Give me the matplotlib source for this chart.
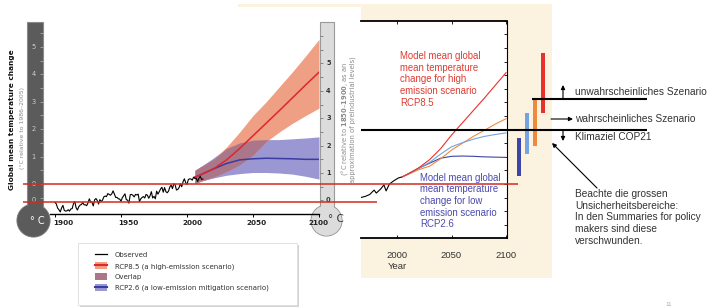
import matplotlib
matplotlib.use('Agg')
import matplotlib.pyplot as plt
import matplotlib.transforms as mtrans
from matplotlib.patches import Rectangle, Circle, Patch
from matplotlib.lines import Line2D
import numpy as np

# ---------------- data ----------------
obs_years = list(range(1900, 2013))
obs_values = [-0.67, -0.73, -0.88, -0.94, -1.02, -0.87, -0.78, -0.96, -0.99, -0.98,
              -0.94, -0.99, -0.91, -0.90, -0.72, -0.64, -0.87, -0.95, -0.83, -0.77,
              -0.75, -0.68, -0.76, -0.76, -0.79, -0.69, -0.54, -0.66, -0.67, -0.80,
              -0.58, -0.53, -0.60, -0.73, -0.57, -0.64, -0.59, -0.47, -0.44, -0.46,
              -0.35, -0.38, -0.41, -0.36, -0.25, -0.37, -0.49, -0.49, -0.54, -0.55,
              -0.63, -0.50, -0.43, -0.36, -0.57, -0.59, -0.70, -0.39, -0.38, -0.41,
              -0.47, -0.38, -0.40, -0.37, -0.64, -0.54, -0.49, -0.46, -0.51, -0.38,
              -0.41, -0.52, -0.43, -0.28, -0.51, -0.45, -0.54, -0.26, -0.37, -0.28,
              -0.18, -0.12, -0.30, -0.13, -0.28, -0.32, -0.26, -0.11, -0.04, -0.17,
              0.01, -0.03, -0.22, -0.20, -0.13, 0.01, -0.10, 0.08, 0.19, 0.05,
              -0.02, 0.16, 0.19, 0.18, 0.14, 0.25, 0.20, 0.21, 0.09, 0.20,
              0.28, 0.17, 0.18]

proj_years = [2006, 2010, 2020, 2030, 2040, 2050, 2060, 2070, 2080, 2090, 2100]
rcp85_mean = [0.25, 0.33, 0.55, 0.88, 1.30, 1.76, 2.22, 2.68, 3.15, 3.62, 4.08]
rcp85_low = [0.00, 0.08, 0.25, 0.45, 0.70, 1.05, 1.55, 1.90, 2.22, 2.50, 2.77]
rcp85_high = [0.50, 0.62, 0.90, 1.35, 1.90, 2.50, 3.00, 3.55, 4.10, 4.68, 5.28]
rcp26_mean = [0.25, 0.33, 0.55, 0.75, 0.88, 0.92, 0.94, 0.93, 0.92, 0.90, 0.90]
rcp26_low = [0.02, 0.10, 0.22, 0.32, 0.38, 0.42, 0.42, 0.40, 0.36, 0.28, 0.18]
rcp26_high = [0.50, 0.62, 0.95, 1.30, 1.50, 1.60, 1.62, 1.62, 1.65, 1.68, 1.72]

left_xticks = [1900, 1950, 2000, 2050, 2100]
therm_left_labels = [5, 4, 3, 2, 1, 0]
therm_right_labels = [5, 4, 3, 2, 1, 0]

r_obs_years = [1967, 1971, 1975, 1979, 1981, 1985, 1988, 1990, 1993, 1997, 2001, 2005]
r_obs_values = [-0.49, -0.45, -0.38, -0.22, -0.33, -0.18, -0.03, -0.25, 0.0, 0.12, 0.22, 0.27]
r_years = [2005, 2010, 2020, 2030, 2040, 2050, 2060, 2070, 2080, 2090, 2100]
r_rcp85 = [0.27, 0.37, 0.60, 0.90, 1.30, 1.80, 2.25, 2.70, 3.15, 3.62, 4.09]
r_rcp60 = [0.27, 0.35, 0.53, 0.66, 0.93, 1.25, 1.50, 1.75, 1.97, 2.20, 2.40]
r_rcp45 = [0.27, 0.37, 0.58, 0.80, 1.10, 1.37, 1.52, 1.65, 1.75, 1.82, 1.88]
r_rcp26 = [0.27, 0.37, 0.58, 0.77, 0.95, 1.02, 1.03, 1.02, 1.00, 0.99, 0.98]
right_xticks = [2000, 2050, 2100]

range_x = [2112, 2119.5, 2127, 2134]
range_low = [0.3, 1.1, 1.4, 2.6]
range_high = [1.7, 2.6, 3.1, 4.8]

# ---------------- style ----------------
CREAM = '#fbf3df'
SALMON = '#ee9f84'
LAVENDER = '#9b97d2'
MAUVE = '#a9768a'
RED = '#e0262a'
BLUE = '#3a3ca2'
C85, C60, C45, C26 = '#e8312c', '#ef8a3d', '#73a3e2', '#3b46a6'
SANS = 'Liberation Sans'
DV = 'DejaVu Sans'

W, H = 707, 308
fig = plt.figure(figsize=(W / 100, H / 100), dpi=100)


def fr(x0, y0, x1, y1):
    return [x0 / W, 1 - y1 / H, (x1 - x0) / W, (y1 - y0) / H]


def px_axes(z):
    a = fig.add_axes([0, 0, 1, 1], zorder=z)
    a.set_xlim(0, W)
    a.set_ylim(H, 0)
    a.axis('off')
    a.patch.set_alpha(0)
    return a


bg = px_axes(0)
bg.add_patch(Rectangle((238, 4), 314, 274, fc=CREAM, ec='none'))
bg.add_patch(Rectangle((0, 7), 361, 301, fc='white', ec='none'))

# ---------------- right panel ----------------
axr = fig.add_axes(fr(361, 20.5, 507, 238), zorder=1)
axr.set_facecolor('white')
axr.set_xlim(1966.97, 2100.9)
axr.set_ylim((184.1 - 238) / 27.24, (184.1 - 20.5) / 27.24)
axr.plot(r_obs_years, r_obs_values, color='black', lw=0.8)
axr.plot(r_years, r_rcp26, color=C26, lw=0.8)
axr.plot(r_years, r_rcp60, color=C60, lw=0.8)
axr.plot(r_years, r_rcp45, color=C45, lw=0.8)
axr.plot(r_years, r_rcp85, color=C85, lw=0.8)
axr.bar(range_x, np.array(range_high) - np.array(range_low), bottom=range_low,
        width=3.7, color=[C26, C45, C60, C85], clip_on=False)
axr.spines['left'].set_visible(False)
axr.spines['top'].set_linewidth(1.3)
axr.spines['bottom'].set_linewidth(1.3)
axr.spines['right'].set_linewidth(0.8)
axr.set_xticks(right_xticks)
axr.set_xticklabels([str(t) for t in right_xticks], fontfamily=SANS, fontsize=6.8, color='#333333')
axr.set_yticks(np.arange(-1.5, 6.01, 0.5))
axr.tick_params(axis='y', left=False, right=True, labelleft=False, direction='in',
                length=2.5, width=0.6)
axr.tick_params(axis='x', top=True, bottom=True, direction='in', length=2.5, width=0.6, pad=9)
axr.set_xlabel('Year', fontfamily=SANS, fontsize=6.8, color='#333333')
axr.xaxis.set_label_coords((397 - 361) / 146, -(262 - 238) / 217.5)

# ---------------- left panel ----------------
axl = fig.add_axes(fr(50, 22, 319, 214), zorder=2.5)
axl.patch.set_alpha(0)
axl.set_xlim(1900 - 5 / 1.32, 2100)
axl.set_ylim(-1.095, 5.912)
axl.fill_between(proj_years, rcp26_low, rcp26_high, color=LAVENDER, lw=0, zorder=1.0)
axl.fill_between(proj_years, rcp85_low, rcp85_high, color=SALMON, lw=0, zorder=1.1)
ov_low = np.maximum(np.array(rcp26_low), np.array(rcp85_low))
ov_high = np.minimum(np.array(rcp26_high), np.array(rcp85_high))
axl.fill_between(proj_years, ov_low, ov_high, where=(ov_high > ov_low), interpolate=True,
                 color=MAUVE, lw=0, zorder=1.2)
axl.plot(proj_years, rcp26_mean, color=BLUE, lw=1.1, zorder=2)
axl.plot(proj_years, rcp85_mean, color=RED, lw=1.1, zorder=2.1)
axl.plot(obs_years, obs_values, color='black', lw=0.8, zorder=2.2)
for s in ['left', 'right', 'top']:
    axl.spines[s].set_visible(False)
axl.spines['bottom'].set_linewidth(1.0)
axl.set_yticks([])
axl.set_xticks(left_xticks)
axl.set_xticklabels([str(t) for t in left_xticks], fontfamily=DV, fontsize=5.2,
                    fontweight='bold', color='#222222')
axl.tick_params(axis='x', direction='out', length=1.8, width=0.7, pad=2.5)
for lab, dx in zip(axl.get_xticklabels(), [8, 7, 5, 3.5, -1]):
    lab.set_transform(lab.get_transform() + mtrans.ScaledTranslation(dx / 100, 0, fig.dpi_scale_trans))

# ---------------- thermometers ----------------
th = px_axes(2)
th.add_patch(Circle((33.5, 220.5), 16.5, fc='#5b5b5b', ec='#7d7d7d', lw=0.8))
th.add_patch(Rectangle((27, 22), 16, 192, fc='#5b5b5b', ec='#8a8a8a', lw=0.8))
th.add_patch(Circle((33.5, 220.5), 16.0, fc='#5b5b5b', ec='none'))
th.add_patch(Circle((326.5, 220.5), 15.5, fc='#dcdcdc', ec='#9a9a9a', lw=0.8))
th.add_patch(Rectangle((320, 22), 14, 192, fc='#dcdcdc', ec='#9a9a9a', lw=0.8))
th.add_patch(Circle((326.5, 220.5), 15.0, fc='#dcdcdc', ec='none'))
th.text(37, 221, '° C', color='white', fontsize=7, fontfamily=DV, ha='center', va='center')
th.text(335.5, 219, '° C', color='#333333', fontsize=7.5, fontfamily=DV, ha='center', va='center')

tl = fig.add_axes(fr(27, 22, 43, 214), zorder=3)
tl.patch.set_alpha(0)
tl.set_xlim(0, 1)
tl.set_ylim(-1.095, 5.912)
for s in tl.spines.values():
    s.set_visible(False)
tl.set_xticks([])
tl.set_yticks(np.arange(-0.5, 5.51, 0.5))
tl.tick_params(axis='y', left=False, right=True, labelleft=False, direction='in',
               length=2.5, width=0.6, color='#a8a8a8')
bt = mtrans.blended_transform_factory(tl.transAxes, tl.transData)
for v in therm_left_labels:
    tl.text(0.4, v, str(v), transform=bt, color='#cfcfcf', fontsize=4.8, fontfamily=DV,
            ha='center', va='center')
tl.text(0.4, -0.6, '0', transform=bt, color='#cfcfcf', fontsize=4.8, fontfamily=DV,
        ha='center', va='center')

tr = fig.add_axes(fr(320, 22, 334, 214), zorder=3)
tr.patch.set_alpha(0)
tr.set_xlim(0, 1)
tr.set_ylim(-1.095 + 0.6, 5.912 + 0.6)
for s in tr.spines.values():
    s.set_visible(False)
tr.set_xticks([])
tr.set_yticks(np.arange(0, 6.01, 0.5))
tr.tick_params(axis='y', left=True, labelleft=False, direction='in',
               length=2.5, width=0.6, color='#777777')
bt2 = mtrans.blended_transform_factory(tr.transAxes, tr.transData)
for v in therm_right_labels:
    tr.text(0.6, v, str(v), transform=bt2, color='#333333', fontsize=4.8, fontfamily=DV,
            fontweight='bold', ha='center', va='center')

# ---------------- overlay ----------------
fg = px_axes(4)
fg.plot([23, 518], [184, 184], color='#d22b1c', lw=1.1, solid_capstyle='butt')
fg.plot([23, 377], [201.5, 201.5], color='#d22b1c', lw=1.1, solid_capstyle='butt')
fg.plot([532, 647], [99, 99], color='black', lw=1.5, solid_capstyle='butt')
fg.plot([361, 647], [129.5, 129.5], color='black', lw=1.5, solid_capstyle='butt')

fg.text(12, 120, 'Global mean temperature change', rotation=90, fontsize=5.3,
        fontweight='bold', fontfamily=DV, ha='center', va='center', color='#111111')
fg.text(22.5, 128, '(°C relative to 1986–2005)', rotation=90, fontsize=4.4,
        fontfamily=DV, ha='center', va='center', color='#8a8a8a')
fg.text(344.5, 118.5, r'(°C relative to $\mathbf{1850}$–$\mathbf{1900}$, as an', rotation=90,
        fontsize=4.9, fontfamily=DV, ha='center', va='center', color='#8a8a8a')
fg.text(352.5, 119.5, 'approximation of preindustrial levels)', rotation=90,
        fontsize=4.9, fontfamily=DV, ha='center', va='center', color='#8a8a8a')

fg.text(400, 79.5, 'Model mean global\nmean temperature\nchange for high\nemission scenario\nRCP8.5',
        fontsize=6.9, fontfamily=SANS, color='#e03a32', ha='left', va='center', linespacing=1.2)
fg.text(420, 201, 'Model mean global\nmean temperature\nchange for low\nemission scenario\nRCP2.6',
        fontsize=6.9, fontfamily=SANS, color='#4a4aae', ha='left', va='center', linespacing=1.2)

ann = dict(fontsize=7.3, fontfamily=SANS, color='#333333', ha='left', va='center')
fg.text(575, 92, 'unwahrscheinliches Szenario', **ann)
fg.text(575, 119, 'wahrscheinliches Szenario', **ann)
fg.text(575, 137, 'Klimaziel COP21', **ann)
fg.text(575, 217.5, 'Beachte die grossen\nUnsicherheitsbereiche:\nIn den Summaries for policy\nmakers sind diese\nverschwunden.',
        linespacing=1.22, **ann)
aprops = dict(arrowstyle='-|>', color='black', lw=0.8, mutation_scale=6, shrinkA=0, shrinkB=0)
fg.annotate('', xy=(563, 85), xytext=(563, 99), arrowprops=aprops)
fg.annotate('', xy=(573, 119), xytext=(551, 119), arrowprops=aprops)
fg.annotate('', xy=(563, 141), xytext=(563, 129.5), arrowprops=aprops)
fg.annotate('', xy=(552, 143), xytext=(597, 188), arrowprops=aprops)
fg.text(669, 304, '11', fontsize=4.5, fontfamily=SANS, color='#b0b0b0', ha='center', va='center')

fg.add_patch(Rectangle((79.5, 244.5), 219, 62, fc='#d4d4d4', ec='none'))
fg.add_patch(Rectangle((78, 243), 219, 62, fc='white', ec='#dddddd', lw=0.6))
handles = [Line2D([], [], color='black', lw=0.9),
           (Patch(fc=SALMON, ec='none'), Line2D([], [], color=RED, lw=1.5)),
           Patch(fc=MAUVE, ec='none'),
           (Patch(fc=LAVENDER, ec='none'), Line2D([], [], color=BLUE, lw=1.5))]
labels = ['Observed', 'RCP8.5 (a high-emission scenario)', 'Overlap',
          'RCP2.6 (a low-emission mitigation scenario)']
leg = fg.legend(handles, labels, loc='upper left', bbox_to_anchor=(95, 251.5),
                bbox_transform=fg.transData, frameon=False,
                prop={'family': DV, 'size': 5}, labelcolor='#333333',
                handlelength=1.75, handleheight=1.15, handletextpad=1.1,
                labelspacing=0.55, borderpad=0, borderaxespad=0)

fig.savefig('out.png', dpi=100)
